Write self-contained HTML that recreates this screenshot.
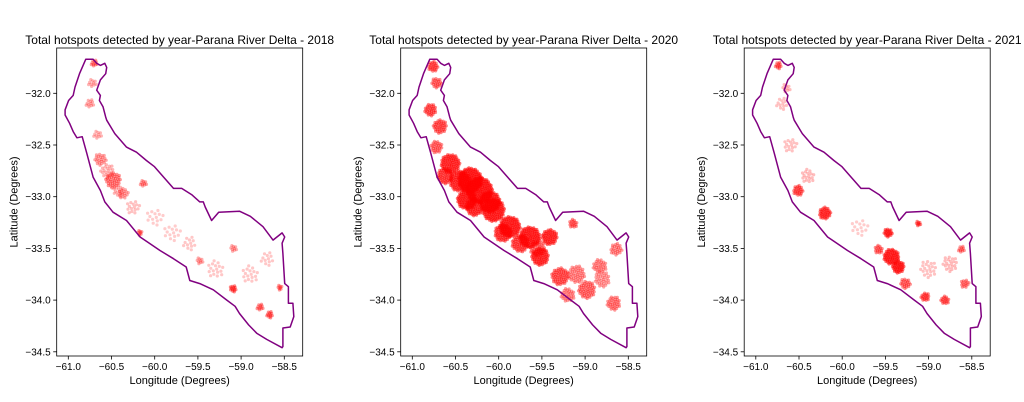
<!DOCTYPE html>
<html><head><meta charset="utf-8"><style>
html,body{margin:0;padding:0;background:#fff;}
svg{display:block;font-family:"Liberation Sans","DejaVu Sans",sans-serif;}
</style></head><body>
<svg id="fig" width="1024" height="402" viewBox="0 0 1024 402" xmlns="http://www.w3.org/2000/svg">
</svg>
<script>
const years = ["2018","2020","2021"];
const xTicks = [-61.0,-60.5,-60.0,-59.5,-59.0,-58.5];
const yTicks = [-32.0,-32.5,-33.0,-33.5,-34.0,-34.5];
const xTickLabels = ["\u221261.0","\u221260.5","\u221260.0","\u221259.5","\u221259.0","\u221258.5"];
const yTickLabels = ["\u221232.0","\u221232.5","\u221233.0","\u221233.5","\u221234.0","\u221234.5"];
const boundaryLon = [-60.797,-60.713,-60.671,-60.629,-60.577,-60.556,-60.567,-60.629,-60.671,-60.629,-60.640,-60.598,-60.567,-60.556,-60.462,-60.326,-60.211,-60.096,-60.002,-59.897,-59.782,-59.688,-59.573,-59.478,-59.437,-59.416,-59.342,-59.259,-59.018,-58.893,-58.746,-58.631,-58.526,-58.495,-58.526,-58.516,-58.495,-58.453,-58.453,-58.401,-58.390,-58.432,-58.516,-58.516,-58.516,-58.526,-58.704,-58.819,-58.913,-59.018,-59.070,-59.165,-59.322,-59.478,-59.594,-59.635,-59.782,-59.939,-60.096,-60.169,-60.326,-60.483,-60.577,-60.629,-60.713,-60.786,-60.839,-60.901,-60.943,-60.985,-61.037,-61.037,-60.996,-60.943,-60.922,-60.870];
const boundaryLat = [-31.67,-31.67,-31.71,-31.73,-31.71,-31.75,-31.81,-31.87,-31.97,-32.02,-32.07,-32.13,-32.23,-32.26,-32.39,-32.52,-32.57,-32.65,-32.71,-32.81,-32.92,-32.92,-32.98,-33.05,-33.05,-33.10,-33.23,-33.15,-33.14,-33.19,-33.29,-33.42,-33.35,-33.39,-33.45,-33.55,-33.84,-33.87,-34.03,-34.03,-34.16,-34.26,-34.27,-34.34,-34.45,-34.46,-34.38,-34.32,-34.24,-34.13,-34.06,-34.00,-33.90,-33.84,-33.81,-33.68,-33.60,-33.52,-33.43,-33.39,-33.23,-33.15,-33.05,-32.94,-32.81,-32.58,-32.42,-32.43,-32.37,-32.29,-32.21,-32.16,-32.07,-32.02,-31.94,-31.81];
// hotspot clusters per year: lon, lat, radius (deg), density
const h2018Lon = [-60.48,-60.63,-60.70,-60.75,-60.36,-60.13,-60.17,-59.09,-58.78,-58.67,-58.55,-59.09,-59.48,-60.55,-60.42,-60.66,-60.25,-59.80,-59.30,-58.90,-59.60,-60.00,-58.70,-60.72];
const h2018Lat = [-32.84,-32.64,-31.71,-32.10,-32.97,-32.87,-33.35,-33.89,-34.07,-34.14,-33.88,-33.50,-33.62,-32.75,-32.95,-32.40,-33.10,-33.35,-33.70,-33.75,-33.45,-33.20,-33.60,-31.90];
const h2018R = [0.09,0.07,0.04,0.05,0.06,0.04,0.03,0.04,0.04,0.04,0.03,0.04,0.04,0.08,0.06,0.05,0.08,0.10,0.10,0.10,0.08,0.10,0.08,0.05];
const h2018A = [0.55,0.45,0.5,0.35,0.4,0.45,0.5,0.7,0.55,0.6,0.5,0.35,0.35,0.3,0.3,0.3,0.2,0.12,0.15,0.15,0.15,0.12,0.15,0.3];
const h2020Lon = [-60.76,-60.72,-60.79,-60.68,-60.72,-60.56,-60.33,-60.22,-60.37,-60.06,-59.87,-59.64,-59.41,-59.52,-59.29,-58.98,-58.67,-58.64,-58.83,-59.14,-60.45,-60.10,-59.95,-59.75,-59.55,-59.10,-58.80,-60.62,-60.28,-59.20];
const h2020Lat = [-31.74,-31.90,-32.16,-32.32,-32.52,-32.68,-32.84,-32.94,-33.03,-33.13,-33.29,-33.39,-33.39,-33.58,-33.77,-33.90,-34.03,-33.51,-33.67,-33.26,-32.85,-33.05,-33.35,-33.45,-33.50,-33.75,-33.80,-32.80,-33.10,-33.95];
const h2020R = [0.06,0.06,0.07,0.08,0.07,0.11,0.14,0.15,0.11,0.13,0.12,0.12,0.09,0.10,0.10,0.10,0.08,0.07,0.08,0.05,0.12,0.12,0.10,0.10,0.09,0.10,0.09,0.09,0.10,0.08];
const h2020A = [0.7,0.6,0.7,0.7,0.6,0.85,0.95,0.95,0.9,0.9,0.9,0.9,0.85,0.85,0.7,0.6,0.55,0.5,0.5,0.6,0.85,0.9,0.8,0.75,0.6,0.5,0.45,0.75,0.85,0.5];
const h2021Lon = [-60.74,-60.51,-60.20,-59.47,-59.43,-59.35,-59.12,-59.04,-58.81,-58.58,-58.62,-59.27,-59.58,-60.70,-60.60,-60.40,-59.80,-59.00,-58.75,-60.65];
const h2021Lat = [-31.73,-32.94,-33.16,-33.35,-33.58,-33.68,-33.26,-33.97,-34.00,-33.84,-33.51,-33.84,-33.51,-32.10,-32.50,-32.80,-33.30,-33.70,-33.65,-31.95];
const h2021R = [0.04,0.06,0.07,0.05,0.09,0.07,0.03,0.05,0.05,0.05,0.04,0.06,0.05,0.07,0.08,0.08,0.10,0.10,0.09,0.05];
const h2021A = [0.6,0.7,0.8,0.85,0.9,0.9,0.7,0.7,0.65,0.55,0.5,0.6,0.6,0.2,0.2,0.25,0.12,0.2,0.25,0.25];
const hotLon=[h2018Lon,h2020Lon,h2021Lon], hotLat=[h2018Lat,h2020Lat,h2021Lat], hotR=[h2018R,h2020R,h2021R], hotA=[h2018A,h2020A,h2021A];

const NS="http://www.w3.org/2000/svg";
const svg=document.getElementById('fig');
const panelLeft=[56.7,400.7,744.2];
const axW=246, axTop=48, axBot=356;
function el(tag,attrs,parent){const e=document.createElementNS(NS,tag);for(const k in attrs)e.setAttribute(k,attrs[k]);(parent||svg).appendChild(e);return e;}
years.forEach((yr,p)=>{
  const L=panelLeft[p];
  const xs=lon=>L+11.6+(lon+61)*86.4;
  const ys=lat=>93.3+(-32-lat)*103.4;
  const g=el('g',{});
  
  
  const t=el('text',{x:L+axW/2,y:44,'text-anchor':'middle','font-size':'12',fill:'#000'},g);
  t.textContent='Total hotspots detected by year-Parana River Delta - '+yr;
  
  
  const hg=el('g',{},g);
  
  
  for(let i=0;i<hotLon[p].length;i++){
    const cx=xs(hotLon[p][i]), cy=ys(hotLat[p][i]);
    const rx=hotR[p][i]*86.4, ry=hotR[p][i]*103.4*0.85, a=hotA[p][i];
    const n=Math.max(6,Math.round(rx*ry*1.1*a+4));
    const cg=el('g',{},hg);
    
    
    for(let k=0;k<n;k++){
      const rr=Math.sqrt((k+0.5)/n), ang=k*2.39996;
      el('circle',{cx:(cx+rx*rr*Math.cos(ang)).toFixed(1),cy:(cy+ry*rr*Math.sin(ang)).toFixed(1),r:1.6,fill:'#ff0000','fill-opacity':(0.15+0.45*a).toFixed(2)},cg);
    }
  }
  const pts=boundaryLon.map((lo,i)=>xs(lo).toFixed(1)+','+ys(boundaryLat[i]).toFixed(1)).join(' ');
  const b=el('polygon',{points:pts,fill:'none',stroke:'#800080','stroke-width':1.5,'stroke-linejoin':'round'},g);
  
  
  const f=el('rect',{x:L,y:axTop,width:axW,height:axBot-axTop,fill:'none',stroke:'#000','stroke-width':0.8},g);
  
  
  xTicks.forEach((v,i)=>{
    const x=xs(v);
    el('line',{x1:x,y1:axBot,x2:x,y2:axBot+3.5,stroke:'#000','stroke-width':0.8},g);
    const tl=el('text',{x:x,y:axBot+14,'text-anchor':'middle','font-size':'10',fill:'#000'},g);
    tl.textContent=xTickLabels[i];
    
    
  });
  yTicks.forEach((v,i)=>{
    const y=ys(v);
    el('line',{x1:L,y1:y,x2:L-3.5,y2:y,stroke:'#000','stroke-width':0.8},g);
    const tl=el('text',{x:L-6,y:y+3.5,'text-anchor':'end','font-size':'10',fill:'#000'},g);
    tl.textContent=yTickLabels[i];
    
    
  });
  const xl=el('text',{x:L+axW/2,y:384,'text-anchor':'middle','font-size':'11',fill:'#000'},g);
  xl.textContent='Longitude (Degrees)';
  
  
  const yl=el('text',{x:0,y:0,'text-anchor':'middle','font-size':'11',fill:'#000',transform:'translate('+(L-39)+','+((axTop+axBot)/2)+') rotate(-90)'},g);
  yl.textContent='Latitude (Degrees)';
  
  
});
</script>
</body></html>
